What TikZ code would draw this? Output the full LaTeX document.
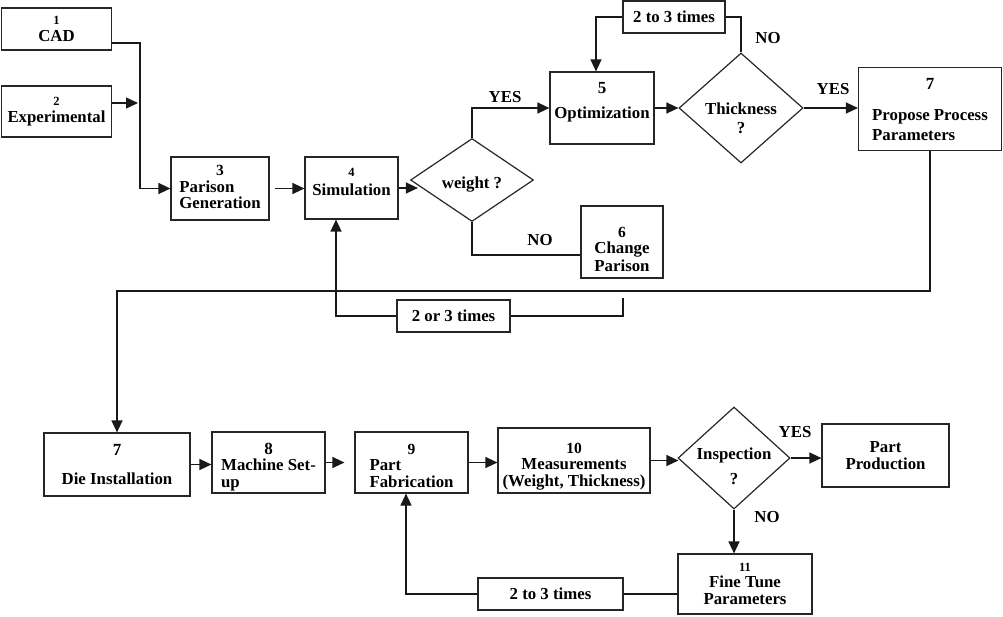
\documentclass[tikz,border=0pt]{standalone}
\usepackage{fontspec}
\setmainfont{Liberation Serif}
\usetikzlibrary{arrows.meta,shapes.geometric}

\newcommand{\nsmall}{\fontsize{12.5}{13}\selectfont}
\newcommand{\nmid}{\fontsize{15.5}{16}\selectfont}
\newcommand{\nbig}{\fontsize{17}{17.5}\selectfont}

\begin{document}
\begin{tikzpicture}[
  x=1pt,
  y=-1pt,
  font=\fontsize{16.8}{17.5}\selectfont\bfseries,
  process/.style={
    draw=black!85,
    line width=1.2pt,
    rectangle,
    inner sep=0pt,
    align=center
  },
  decision/.style={
    draw=black!85,
    line width=1.2pt,
    diamond,
    inner sep=0pt,
    align=center
  },
  link/.style={
    line width=1.4pt,
    draw=black!90
  },
  flow/.style={
    link,
    -{Triangle[length=12pt,width=11pt]}
  }
]
  \useasboundingbox (0,0) rectangle (1003,616);

  \node[process,minimum width=110pt,minimum height=42pt] (cad) at (56.5,29) {{\nsmall 1}\\CAD};
  \node[process,minimum width=110pt,minimum height=51pt] (exp) at (56.5,111.5) {{\nsmall 2}\\Experimental};
  \node[process,minimum width=98pt,minimum height=63pt] (parison) at (220,188.5)
    {\begin{tabular}{@{}l@{}}\multicolumn{1}{@{}c@{}}{\nmid 3}\\[-1pt]Parison\\[-1pt]Generation\end{tabular}};
  \node[process,minimum width=93pt,minimum height=62pt] (sim) at (351.5,188)
    {\raisebox{1pt}[0pt][0pt]{\begin{tabular}{@{}c@{}}{\nsmall 4}\\[1pt]Simulation\end{tabular}}};
  \node[decision,minimum width=123pt,minimum height=83pt] (weight) at (472,180)
    {\raisebox{-8pt}[0pt][0pt]{weight ?}};
  \node[process,minimum width=104pt,minimum height=72pt] (opt) at (602,108)
    {\raisebox{1pt}[0pt][0pt]{\begin{tabular}{@{}c@{}}{\nbig 5}\\[8pt]Optimization\end{tabular}}};
  \node[decision,minimum width=124pt,minimum height=110pt] (thick) at (741,108)
    {\raisebox{-17pt}[0pt][0pt]{\begin{tabular}{@{}c@{}}Thickness\\[2pt]?\end{tabular}}};
  \node[process,minimum width=143pt,minimum height=83pt] (propose) at (930,109)
    {\raisebox{-7pt}[0pt][0pt]{\begin{tabular}{@{}l@{}}\multicolumn{1}{@{}c@{}}{\nbig 7}\\[13pt]Propose Process\\[3pt]Parameters\end{tabular}}};
  \node[process,minimum width=82pt,minimum height=72pt] (change) at (622,242)
    {\raisebox{-13pt}[0pt][0pt]{\begin{tabular}{@{}c@{}}{\nmid 6}\\[-1pt]Change\\Parison\end{tabular}}};
  \node[process,minimum width=102pt,minimum height=32pt] (times1) at (674,17) {2 to 3 times};
  \node[process,minimum width=113pt,minimum height=32pt] (times2) at (453.5,316) {2 or 3 times};

  \node[process,minimum width=146pt,minimum height=63pt] (die) at (117,464.5) {{\nbig 7}\\[12pt]Die Installation};
  \node[process,minimum width=113pt,minimum height=61pt] (machine) at (268.5,462.5)
    {\raisebox{-9pt}[0pt][0pt]{\begin{tabular}{@{}l@{}}\multicolumn{1}{@{}c@{}}{\nbig 8}\\[-1pt]Machine Set-\\[-1pt]up\end{tabular}}};
  \node[process,minimum width=113pt,minimum height=61pt] (part) at (411.5,462.5)
    {\raisebox{-9pt}[0pt][0pt]{\begin{tabular}{@{}l@{}}\multicolumn{1}{@{}c@{}}{\nmid 9}\\[-1pt]Part\\[-1pt]Fabrication\end{tabular}}};
  \node[process,minimum width=152pt,minimum height=65pt] (meas) at (574,460.5)
    {\raisebox{-10pt}[0pt][0pt]{\begin{tabular}{@{}c@{}}{\nmid 10}\\[-1pt]Measurements\\[-1pt](Weight, Thickness)\end{tabular}}};
  \node[decision,minimum width=112pt,minimum height=102pt] (insp) at (734,458)
    {\raisebox{-15pt}[0pt][0pt]{\begin{tabular}{@{}c@{}}Inspection\\[8pt]?\end{tabular}}};
  \node[process,minimum width=127pt,minimum height=63pt] (prod) at (885.5,455.5) {Part\\Production};
  \node[process,minimum width=134pt,minimum height=60pt] (fine) at (745,584) {{\nsmall 11}\\[-2pt]Fine Tune\\Parameters};
  \node[process,minimum width=145pt,minimum height=32pt] (times3) at (550.5,594) {2 to 3 times};

  \coordinate (cadbend) at (140,43);
  \coordinate (expend) at (138,103);
  \coordinate (nobend) at (472,255);
  \coordinate (optbend) at (596,17);
  \coordinate (diebend) at (117,291);
  \coordinate (simbend) at (336,316);
  \coordinate (changeend) at (623,298);
  \coordinate (partbend) at (406,594);

  \draw[flow] (cad.east |- cadbend) -- (cadbend) |- (parison.west);
  \draw[flow] (exp.east |- expend) -- (expend);
  \draw[flow,shorten <=5pt] (parison.east) -- (parison.east -| sim.west);
  \draw[flow,shorten >=-8pt] (sim.east) -- (sim.east -| weight.west);
  \draw[flow] (weight.north) |- (opt.west);
  \node (yes1) at (505,97) {YES};
  \draw[link] (weight.south) -- (nobend) -- (nobend -| change.west);
  \node (no1) at (540,240) {NO};
  \draw[flow] (opt.east) -- (thick.west);
  \draw[flow] (thick.east) -- (thick.east -| propose.west);
  \node (yes2) at (833,89) {YES};
  \draw[link] (thick.north) |- (times1.east);
  \draw[flow] (times1.west) -- (optbend) -- (optbend |- opt.north);
  \node (no2) at (768,38) {NO};
  \draw[flow] (propose.south) |- (diebend) -- (die.north);
  \draw[flow] (times2.west |- simbend) -- (simbend) -- (simbend |- sim.south);
  \draw[link] (times2.east |- simbend) -| (changeend);

  \draw[flow] (die.east) -- (die.east -| machine.west);
  \draw[flow,shorten >=10pt] (machine.east) -- (part.west);
  \draw[flow] (part.east) -- (part.east -| meas.west);
  \draw[flow,shorten >=-1pt] (meas.east) -- (meas.east -| insp.west);
  \draw[flow] (insp.east) -- (insp.east -| prod.west);
  \node (yes3) at (795,432) {YES};
  \draw[flow] (insp.south) -- (insp.south |- fine.north);
  \node (no3) at (767,517) {NO};
  \draw[link] (times3.east) -- (times3.east -| fine.west);
  \draw[flow] (times3.west) -- (partbend) -- (partbend |- part.south);
\end{tikzpicture}
\end{document}
